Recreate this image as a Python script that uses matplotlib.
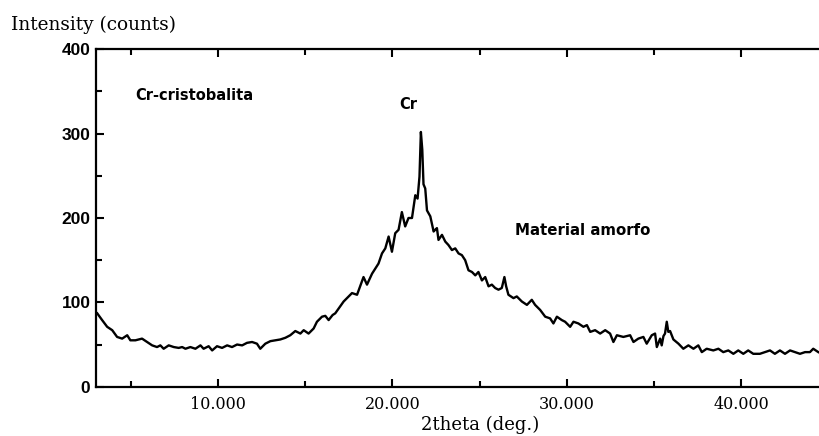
import matplotlib
matplotlib.use("Agg")
import matplotlib.pyplot as plt
from matplotlib.ticker import MultipleLocator, FuncFormatter

# 2theta (deg) and intensity (counts)
two_theta = [3.07, 3.35, 3.64, 3.93, 4.21, 4.50, 4.79, 4.97, 5.26, 5.64,
             5.93, 6.22, 6.50, 6.69, 6.88, 7.17, 7.46, 7.74, 7.94, 8.13,
             8.41, 8.70, 8.99, 9.17, 9.46, 9.66, 9.94, 10.23, 10.52, 10.80,
             11.09, 11.38, 11.66, 11.95, 12.23, 12.42, 12.71, 13.00, 13.28, 13.57,
             13.86, 14.14, 14.43, 14.72, 14.91, 15.19, 15.48, 15.67, 15.96, 16.15,
             16.34, 16.57, 16.72, 17.20, 17.68, 17.97, 18.34, 18.54, 18.83, 19.20,
             19.40, 19.59, 19.78, 19.97, 20.16, 20.35, 20.54, 20.73, 20.92, 21.12,
             21.31, 21.44, 21.55, 21.63, 21.71, 21.78, 21.88, 21.98, 22.17, 22.36,
             22.45, 22.55, 22.64, 22.84, 23.03, 23.21, 23.41, 23.60, 23.79, 23.98,
             24.17, 24.36, 24.56, 24.75, 24.93, 25.13, 25.32, 25.51, 25.70, 25.89,
             26.08, 26.27, 26.42, 26.52, 26.65, 26.94, 27.13, 27.42, 27.71, 27.99,
             28.18, 28.47, 28.76, 29.04, 29.23, 29.43, 29.71, 29.90, 30.19, 30.38,
             30.66, 30.95, 31.15, 31.34, 31.62, 31.91, 32.20, 32.48, 32.67, 32.87,
             33.24, 33.63, 33.82, 34.10, 34.39, 34.58, 34.87, 35.06, 35.16, 35.35,
             35.44, 35.54, 35.63, 35.73, 35.82, 35.92, 36.11, 36.40, 36.68, 36.97,
             37.26, 37.54, 37.74, 38.02, 38.40, 38.69, 38.97, 39.26, 39.55, 39.83,
             40.12, 40.40, 40.69, 41.07, 41.36, 41.65, 41.93, 42.22, 42.51, 42.80,
             43.08, 43.37, 43.66, 43.94, 44.13, 44.42]
counts = [87, 79, 71, 67, 59, 57, 61, 55, 55, 57,
          53, 49, 47, 49, 45, 49, 47, 46, 47, 45,
          47, 45, 49, 45, 48, 43, 48, 46, 49, 47,
          50, 49, 52, 53, 51, 45, 51, 54, 55, 56,
          58, 61, 66, 63, 67, 63, 69, 77, 83, 84,
          79, 85, 87, 101, 111, 109, 130, 121, 134, 146,
          158, 164, 178, 160, 182, 186, 207, 190, 200, 200,
          227, 223, 249, 302, 281, 240, 235, 209, 202, 184,
          186, 188, 174, 180, 172, 168, 162, 164, 158, 156,
          150, 138, 136, 132, 136, 126, 130, 119, 121, 117,
          115, 117, 130, 119, 109, 105, 107, 101, 97, 103,
          97, 91, 83, 81, 75, 83, 79, 77, 71, 77,
          75, 71, 73, 65, 67, 63, 67, 63, 53, 61,
          59, 61, 53, 57, 59, 51, 61, 63, 47, 57,
          49, 60, 63, 77, 65, 66, 56, 51, 45, 49,
          45, 49, 41, 45, 43, 45, 41, 43, 39, 43,
          39, 43, 39, 39, 41, 43, 39, 43, 39, 43,
          41, 39, 41, 41, 45, 41]

x_major = [10, 20, 30, 40]

fig = plt.figure(figsize=(8.19, 4.36), dpi=100)
ax = fig.add_axes([96 / 819, 1 - 386.7 / 436, 1 - 96 / 819, (386.7 - 49.3) / 436])

ax.plot(two_theta, counts, color="black", lw=1.7)

ax.set_xlim(3.0, 44.46)
ax.set_ylim(0, 400)
ax.set_xticks(x_major)
ax.xaxis.set_minor_locator(MultipleLocator(5))
ax.yaxis.set_major_locator(MultipleLocator(100))
ax.yaxis.set_minor_locator(MultipleLocator(50))
ax.xaxis.set_major_formatter(FuncFormatter(lambda v, _: "{:.3f}".format(v)))

ax.spines["right"].set_visible(False)
for s in ["left", "bottom", "top"]:
    ax.spines[s].set_linewidth(1.6)

ax.tick_params(axis="x", which="both", direction="in", top=True, width=1.5, pad=7)
ax.tick_params(axis="x", which="major", length=6)
ax.tick_params(axis="x", which="minor", length=4)
ax.tick_params(axis="y", which="both", direction="in", right=False, width=1.5, pad=4)
ax.tick_params(axis="y", which="major", length=6)
ax.tick_params(axis="y", which="minor", length=4)

for lab in ax.get_xticklabels():
    lab.set_fontfamily("DejaVu Serif")
    lab.set_fontsize(11.5)
for lab in ax.get_yticklabels():
    lab.set_fontfamily("Liberation Sans")
    lab.set_fontweight("bold")
    lab.set_fontsize(12.5)

fig.text(11 / 819, 1 - 25 / 436, "Intensity (counts)", family="DejaVu Serif",
         fontsize=13.3, va="center", ha="left")
fig.text(480 / 819, 1 - 425 / 436, "2theta (deg.)", family="DejaVu Serif",
         fontsize=13, va="center", ha="center")

ax.text(5.25, 345, "Cr-cristobalita", fontsize=10.5, fontweight="bold",
        family="DejaVu Sans", va="center")
ax.text(20.9, 335, "Cr", fontsize=10.5, fontweight="bold",
        family="DejaVu Sans", va="center", ha="center")
ax.text(27.0, 185, "Material amorfo", fontsize=10.8, fontweight="bold",
        family="DejaVu Sans", va="center")

fig.savefig("out.png", dpi=100)
